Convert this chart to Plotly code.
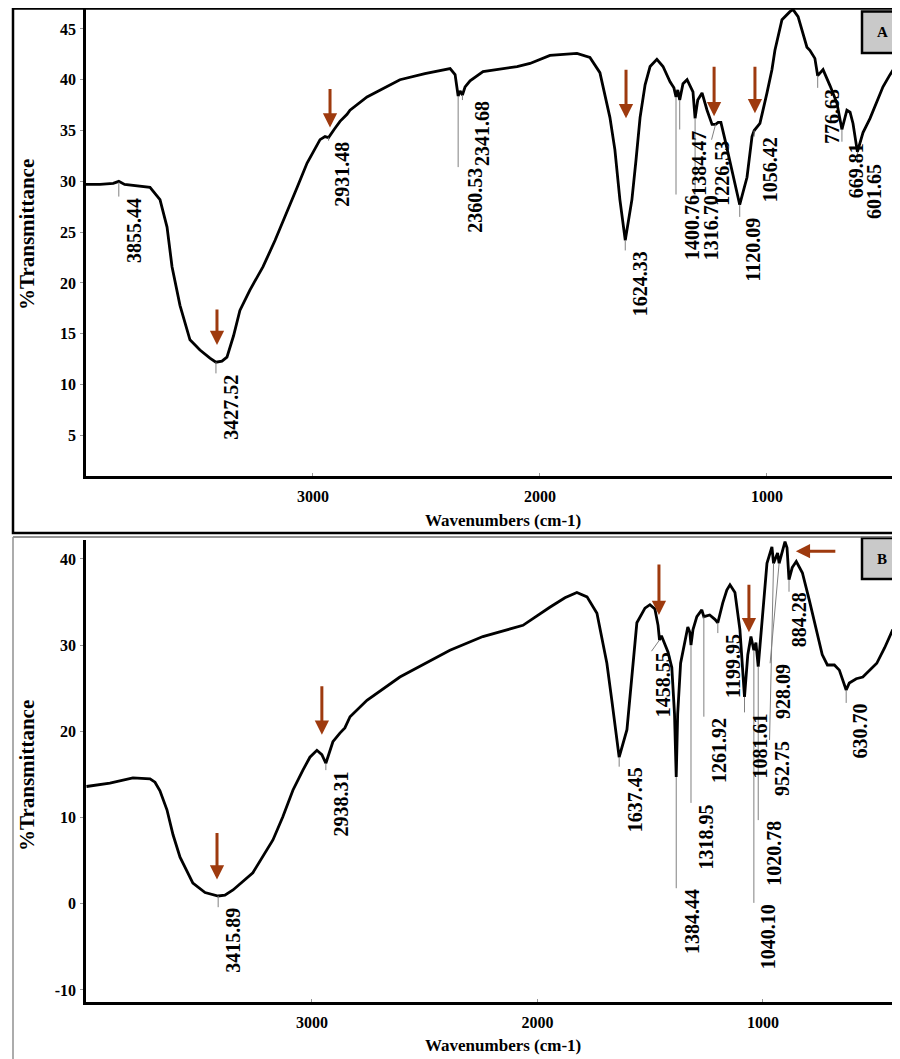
import plotly.graph_objects as go

# ---------------- Spectrum A (top panel) ----------------
wn_a = [4000, 3938, 3880, 3855.44, 3830, 3784, 3718, 3674, 3643, 3621, 3586, 3542, 3498, 3454,
        3427.52, 3401, 3379, 3350, 3322, 3278, 3220, 3167, 3115, 3070, 3026, 2991, 2969, 2947,
        2931.48, 2907, 2881, 2850, 2837, 2762, 2683, 2617, 2507, 2396, 2374, 2360.53, 2352,
        2341.68, 2330, 2308, 2251, 2101, 2044, 1956, 1837, 1780, 1736, 1692, 1670, 1648,
        1624.33, 1595, 1577, 1559, 1537, 1515, 1485, 1458, 1427, 1410, 1400.76, 1393, 1384.47,
        1370, 1352, 1326, 1316.70, 1305, 1286, 1264, 1242, 1226.53, 1215, 1203, 1185, 1154,
        1132, 1120.09, 1088, 1066, 1056.42, 1031, 1000, 978, 965, 934, 899, 885, 863, 841, 824,
        811, 789, 776.63, 753, 722, 692, 669.81, 648, 634, 621, 601.65, 577, 546, 489, 458,
        427, 414]
t_a = [29.7, 29.7, 29.8, 30.0, 29.7, 29.6, 29.4, 28.2, 25.5, 21.6, 17.8, 14.4, 13.4, 12.6,
       12.2, 12.3, 12.7, 14.8, 17.3, 19.3, 21.6, 24.2, 26.9, 29.4, 31.8, 33.3, 34.1, 34.4,
       34.3, 35.1, 35.9, 36.6, 37.0, 38.3, 39.2, 40.0, 40.6, 41.1, 40.5, 38.4, 38.9,
       38.5, 39.3, 39.9, 40.8, 41.3, 41.6, 42.4, 42.6, 42.2, 40.7, 36.3, 33.1, 28.2,
       24.2, 28.2, 32.1, 36.3, 39.5, 41.3, 42.0, 41.3, 39.8, 39.2, 38.3, 39.0, 38.0,
       39.6, 40.0, 38.8, 36.2, 38.0, 38.7, 37.0, 35.6, 35.6, 35.8, 35.8, 34.1, 31.1,
       28.9, 27.7, 30.4, 34.4, 35.0, 35.7, 38.7, 41.0, 42.9, 45.9, 46.7, 46.9, 46.2, 44.6, 43.2,
       42.9, 42.1, 40.4, 41.0, 39.4, 37.7, 35.1, 37.0, 36.8, 35.7, 32.9, 34.8, 36.2, 39.3, 40.5,
       41.5, 42.0]

# ---------------- Spectrum B (bottom panel) ----------------
wn_b = [4000, 3896, 3794, 3718, 3696, 3674, 3643, 3616, 3585, 3528, 3474, 3415.89, 3386, 3350,
        3262, 3173, 3129, 3084, 3040, 3009, 2978, 2956, 2938.31, 2907, 2876, 2854, 2831, 2756,
        2610, 2388, 2242, 2064, 1945, 1878, 1825, 1780, 1736, 1692, 1670, 1647, 1637.45, 1603,
        1581, 1559, 1523, 1501, 1479, 1465, 1458.55, 1450, 1421, 1404, 1392, 1384.44, 1378,
        1365, 1333, 1324, 1318.95, 1310, 1293, 1271, 1261.92, 1236, 1213, 1199.95, 1178, 1160,
        1146, 1124, 1102, 1089, 1081.61, 1067, 1053, 1040.10, 1031, 1020.78, 1004, 982, 960,
        952.75, 935, 928.09, 902, 893, 884.28, 870, 852, 825, 794, 763, 737, 714, 683, 661,
        630.70, 617, 586, 557, 526, 495, 460, 424, 406, 392]
t_b = [13.6, 14.0, 14.6, 14.5, 14.1, 13.1, 10.9, 8.0, 5.4, 2.4, 1.3, 0.9, 1.0, 1.6,
       3.6, 7.4, 10.1, 13.2, 15.5, 17.0, 17.8, 17.3, 16.3, 18.8, 19.8, 20.4, 21.7, 23.6,
       26.3, 29.4, 31.0, 32.3, 34.4, 35.5, 36.1, 35.6, 33.7, 27.9, 23.6, 18.7, 17.0, 20.2,
       26.0, 32.6, 34.3, 34.7, 34.2, 32.3, 30.6, 31.1, 29.2, 27.4, 22.0, 14.7, 22.0,
       27.9, 32.1, 31.5, 30.0, 31.8, 33.3, 34.1, 33.3, 33.5, 33.0, 32.6, 34.9, 36.4,
       37.0, 36.1, 31.8, 27.1, 24.0, 28.9, 31.0, 29.4, 30.3, 27.5, 32.9, 39.5, 41.4,
       39.5, 40.7, 39.5, 42.0, 41.3, 37.6, 39.0, 39.7, 38.4, 35.2, 31.8, 28.9, 27.7, 27.7, 27.1,
       24.8, 25.6, 26.1, 26.3, 27.1, 27.9, 29.7, 31.8, 30.0, 33.7]

# ---------------- Peak labels ----------------
peaks_a = [3855.44, 3427.52, 2931.48, 2360.53, 2341.68, 1624.33, 1400.76, 1384.47,
           1316.70, 1226.53, 1120.09, 1056.42, 776.63, 669.81, 601.65]
peak_t_a = [29.9, 12.2, 34.3, 38.4, 38.5, 24.2, 38.3, 38.0, 36.2, 35.6, 27.7, 35.0, 40.4, 35.1, 32.9]
peaks_b = [3415.89, 2938.31, 1637.45, 1458.55, 1384.44, 1318.95, 1261.92, 1199.95,
           1081.61, 1040.10, 1020.78, 952.75, 928.09, 884.28, 630.70]
peak_t_b = [0.9, 16.3, 17.0, 30.6, 14.7, 30.0, 33.3, 32.6, 24.0, 29.4, 27.5, 39.5, 39.5, 37.6, 24.8]

# y tick labels
yticks_a = [5, 10, 15, 20, 25, 30, 35, 40, 45]
yticks_b = [-10, 0, 10, 20, 30, 40]
xticks = [3000, 2000, 1000]

# label layout: (value at top of text, text x shift px, leader end x shift px)
lab_a = [(28.5, 3, 0), (11.1, 3, 0), (34.0, 2, 0), (31.4, 4, 0), (38.0, 7, 0), (23.2, 3, 0),
         (28.7, 4, 0), (35.1, 7, 0), (28.7, 4, 0), (34.1, -5, -4), (26.5, 1, 0), (34.4, 4, 0),
         (39.2, 3, 0), (33.9, 2, 0), (31.8, 4, 0)]
lab_b = [(-0.4, 3, 0), (15.5, 3, 0), (15.9, 4, 0), (29.3, -9, -8), (1.8, 3, 0), (11.7, 3, 0),
         (21.7, 3, 0), (31.4, 3, 0), (22.2, 3, 0), (0.1, 3, 0), (9.7, 3, 0), (19.0, -3, -4),
         (27.9, -8, -9), (36.2, -2, 0), (23.3, 2, 0)]

# arrows: (tip wavenumber, tip value, dx px, dy px)
arrows_a = [(3423, 13.9, 0, -37), (2925, 35.3, 0, -40), (1621, 36.2, 0, -50),
            (1233, 36.4, 0, -51), (1053, 36.7, 0, -48)]
arrows_b = [(3421, 2.8, 0, -48), (2956, 19.6, 0, -50), (1461, 33.5, 0, -52),
            (1062, 31.5, 0, -49), (854, 40.9, 41, 0)]

OFF = 8  # page body margin
W, H = 900 - OFF, 1059 - OFF
FONT = "Liberation Serif"
BROWN = "#9E3A0E"


def px(x):
    return (x - OFF) / W


def py(y):
    return 1 - (y - OFF) / H


fig = go.Figure()
fig.add_trace(go.Scatter(x=wn_a, y=t_a, mode="lines", line=dict(color="black", width=2.8),
                         xaxis="x", yaxis="y", showlegend=False, hoverinfo="skip"))
fig.add_trace(go.Scatter(x=wn_b, y=t_b, mode="lines", line=dict(color="black", width=2.8),
                         xaxis="x2", yaxis="y2", showlegend=False, hoverinfo="skip"))

annotations = []
shapes = []


def add_labels(peaks, peak_t, labs, xr, yr):
    for p, pt, (top, dx, ldx) in zip(peaks, peak_t, labs):
        shapes.append(dict(type="line", xref=xr, yref=yr, xsizemode="pixel", xanchor=p,
                           x0=0, x1=ldx, y0=pt, y1=top, line=dict(color="#808080", width=1)))
        annotations.append(dict(x=p, y=top, xref=xr, yref=yr, text=f"{p:.2f}", showarrow=False,
                                textangle=-90, xanchor="left", yanchor="top", xshift=dx,
                                borderpad=0, font=dict(family=FONT, size=20, color="black",
                                                       weight="bold")))


def add_arrows(arrs, xr, yr):
    for (x, y, dx, dy) in arrs:
        annotations.append(dict(x=x, y=y, xref=xr, yref=yr, text="", showarrow=True,
                                ax=dx, ay=dy, arrowhead=2, arrowsize=0.95, arrowwidth=3,
                                arrowcolor=BROWN, standoff=0))


add_labels(peaks_a, peak_t_a, lab_a, "x", "y")
add_labels(peaks_b, peak_t_b, lab_b, "x2", "y2")
add_arrows(arrows_a, "x", "y")
add_arrows(arrows_b, "x2", "y2")

# axis titles
for yc in (235, 776):
    annotations.append(dict(x=px(27), y=py(yc), xref="paper", yref="paper", text="%Transmittance",
                            textangle=-90, showarrow=False, xanchor="center", yanchor="middle",
                            font=dict(family=FONT, size=21, color="black", weight="bold")))
for yc in (520, 1045):
    annotations.append(dict(x=px(503), y=py(yc), xref="paper", yref="paper",
                            text="Wavenumbers (cm-1)", showarrow=False, xanchor="center",
                            yanchor="middle",
                            font=dict(family=FONT, size=17, color="black", weight="bold")))

# panel tags
for (y0, y1, tag) in ((11.5, 53, "A"), (538, 579, "B")):
    shapes.append(dict(type="rect", xref="paper", yref="paper", x0=px(862), x1=px(903),
                       y0=py(y1), y1=py(y0), fillcolor="#C9C9C9", line=dict(color="black", width=2.5),
                       layer="above"))
    annotations.append(dict(x=px(882), y=py((y0 + y1) / 2), xref="paper", yref="paper", text=tag,
                            showarrow=False, xanchor="center", yanchor="middle",
                            font=dict(family=FONT, size=15, color="black", weight="bold")))

# frames
shapes.append(dict(type="rect", xref="paper", yref="paper", x0=px(13), x1=px(905), y0=py(533),
                   y1=py(8.6), line=dict(color="black", width=2.5), layer="above"))
shapes.append(dict(type="line", xref="paper", yref="paper", x0=px(13), x1=px(905), y0=py(537),
                   y1=py(537), line=dict(color="#707070", width=1.5), layer="above"))
shapes.append(dict(type="line", xref="paper", yref="paper", x0=px(13), x1=px(13), y0=py(537),
                   y1=0, line=dict(color="#909090", width=1.5), layer="above"))

tickfont = dict(family=FONT, size=16, color="black", weight="bold")
xcommon = dict(domain=[px(86), 1], tickvals=xticks, ticktext=[str(v) for v in xticks],
               ticks="inside", ticklen=3,
               tickcolor="#999999", showline=True, linecolor="black", linewidth=2.5, mirror=False,
               showgrid=False, zeroline=False, tickfont=tickfont, ticklabelstandoff=4)
ycommon = dict(ticks="outside", ticklen=3, tickcolor="#999999", showline=True, linecolor="black",
               linewidth=2.5, showgrid=False, zeroline=False, tickfont=tickfont, ticklabelstandoff=1)

fig.update_layout(
    width=W, height=H, autosize=False,
    margin=dict(l=0, r=0, t=0, b=0),
    paper_bgcolor="white", plot_bgcolor="white",
    xaxis=dict(range=[4000, 414], anchor="y", **xcommon),
    yaxis=dict(domain=[py(476), py(8.6)], range=[1.0, 47.0], anchor="x",
               tickvals=yticks_a, ticktext=[str(v) for v in yticks_a], **ycommon),
    xaxis2=dict(range=[4002, 392], anchor="y2", **xcommon),
    yaxis2=dict(domain=[py(1002), py(540)], range=[-11.4, 42.2], anchor="x2",
                tickvals=yticks_b, ticktext=[str(v) for v in yticks_b], **ycommon),
    annotations=annotations,
    shapes=shapes,
    showlegend=False,
)

fig.write_html("out.html")
